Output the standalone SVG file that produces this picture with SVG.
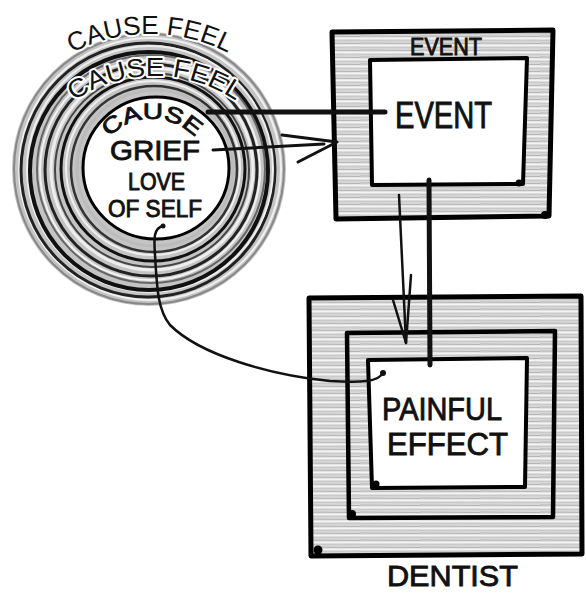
<svg xmlns="http://www.w3.org/2000/svg" width="586" height="593" viewBox="0 0 586 593">
<defs>
<pattern id="hatch" width="60" height="7" patternUnits="userSpaceOnUse">
<rect width="60" height="7" fill="#dadada"/>
<line x1="0" y1="1" x2="60" y2="1.5" stroke="#a9a9a9" stroke-width="0.8"/>
<line x1="0" y1="3.5" x2="60" y2="3.2" stroke="#f4f4f4" stroke-width="1.4"/>
<line x1="0" y1="5.6" x2="60" y2="5.8" stroke="#bdbdbd" stroke-width="0.7"/>
</pattern>
<path id="arcOuter" d="M 55 63 A 170 170 0 0 1 245 63"/>
<path id="arcMid" d="M 60 112 A 143 143 0 0 1 250 112"/>
<path id="arcInner" d="M 100 150 A 59 59 0 0 1 204 150"/>
</defs>
<style>
.lbl{font-family:"Liberation Sans","DejaVu Sans",sans-serif;fill:#111;stroke:#111;stroke-width:0.9}
.halo{paint-order:stroke;stroke:#fff;stroke-width:4;stroke-linejoin:round}
.box{stroke:#000;stroke-linejoin:round}
.ring{fill:none}
.ln{fill:none;stroke:#111;stroke-linecap:round;stroke-linejoin:round}
</style>

<g id="cause-circle">
<circle cx="149" cy="169" r="137" fill="#c4c4c4"/>
<circle class="ring" cx="149" cy="169" r="135" stroke="#888" stroke-width="2"/>
<circle class="ring" cx="150" cy="169" r="131" stroke="#f0f0f0" stroke-width="2"/>
<circle class="ring" cx="148" cy="170" r="127" stroke="#222" stroke-width="3"/>
<circle class="ring" cx="150" cy="169" r="123" stroke="#eee" stroke-width="2"/>
<circle class="ring" cx="149" cy="171" r="119" stroke="#111" stroke-width="4"/>
<circle class="ring" cx="151" cy="169" r="114" stroke="#666" stroke-width="2"/>
<circle class="ring" cx="150" cy="170" r="110" stroke="#f2f2f2" stroke-width="2"/>
<circle class="ring" cx="151" cy="170" r="106" stroke="#222" stroke-width="3"/>
<circle class="ring" cx="152" cy="169" r="101" stroke="#eee" stroke-width="3"/>
<circle class="ring" cx="152" cy="170" r="97" stroke="#444" stroke-width="2"/>
<circle class="ring" cx="153" cy="169" r="92" stroke="#111" stroke-width="3"/>
<circle class="ring" cx="153" cy="168" r="87" stroke="#f0f0f0" stroke-width="2"/>
<circle class="ring" cx="154" cy="169" r="83" stroke="#333" stroke-width="2.5"/>
<circle class="ring" cx="155" cy="168" r="78" stroke="#bbb" stroke-width="3"/>
<ellipse cx="156" cy="168" rx="73" ry="71" fill="#fff" stroke="#000" stroke-width="3"/>
<text class="lbl halo" font-size="26"><textPath href="#arcOuter" startOffset="50%" text-anchor="middle" textLength="162" lengthAdjust="spacingAndGlyphs">CAUSE FEEL</textPath></text>
<text class="lbl halo" font-size="26"><textPath href="#arcMid" startOffset="50%" text-anchor="middle" textLength="172" lengthAdjust="spacingAndGlyphs">CAUSE FEEL</textPath></text>
<text class="lbl" font-size="22"><textPath href="#arcInner" startOffset="50%" text-anchor="middle" textLength="96" lengthAdjust="spacingAndGlyphs">CAUSE</textPath></text>
<text class="lbl" x="110" y="160" font-size="28" textLength="90" lengthAdjust="spacingAndGlyphs">GRIEF</text>
<text class="lbl" x="128" y="190" font-size="23" textLength="57" lengthAdjust="spacingAndGlyphs">LOVE</text>
<text class="lbl" x="108" y="217" font-size="23" textLength="94" lengthAdjust="spacingAndGlyphs">OF SELF</text>
</g>

<g id="event-box">
<path class="box" d="M332 32 L553 30 L549 216 L336 219 Z" fill="url(#hatch)" stroke-width="5"/>
<path class="box" d="M370 60 L527 58 L523 184 L372 185 Z" fill="#fff" stroke-width="4"/>
<circle cx="545" cy="215" r="4" fill="#000"/>
<circle cx="519" cy="183" r="3.5" fill="#000"/>
<text class="lbl" x="410" y="55" font-size="24" textLength="72" lengthAdjust="spacingAndGlyphs">EVENT</text>
<text class="lbl" x="395" y="128" font-size="36" textLength="97" lengthAdjust="spacingAndGlyphs">EVENT</text>
</g>

<g id="dentist-box">
<path class="box" d="M309 298 L581 296 L582 554 L311 556 Z" fill="url(#hatch)" stroke-width="5"/>
<path class="box" d="M347 333 L555 331 L553 517 L349 518 Z" fill="url(#hatch)" stroke-width="4.5"/>
<path class="box" d="M368 360 L527 358 L525 487 L372 488 Z" fill="#fff" stroke-width="4"/>
<circle cx="318" cy="550" r="4.5" fill="#000"/>
<circle cx="352" cy="514" r="4" fill="#000"/>
<circle cx="376" cy="484" r="3.5" fill="#000"/>
<text class="lbl" x="382" y="420" font-size="32" textLength="120" lengthAdjust="spacingAndGlyphs">PAINFUL</text>
<text class="lbl" x="387" y="455" font-size="32" textLength="121" lengthAdjust="spacingAndGlyphs">EFFECT</text>
<text class="lbl" x="387" y="586" font-size="30" textLength="131" lengthAdjust="spacingAndGlyphs">DENTIST</text>
</g>

<g id="connectors">
<path class="ln" d="M208 112 L385 112" stroke-width="5"/>
<path class="ln" d="M213 150 L324 144" stroke-width="3"/>
<path class="ln" d="M282 135 L337 142 L298 162" stroke-width="3"/>
<path class="ln" d="M399 195 L406 343" stroke-width="2.5"/>
<path class="ln" d="M393 300 L406 343 L411 275" stroke-width="2.5"/>
<path class="ln" d="M429 180 L430 365" stroke-width="5"/>
<path class="ln" d="M163 226 C153 228 154 240 155 255 C157 290 158 310 170 325 C200 355 270 375 330 381 C360 383 380 382 383 372" stroke-width="2.5"/>
<circle cx="163" cy="226" r="2.5" fill="#111"/>
<circle cx="383" cy="373" r="3" fill="#111"/>
</g>
</svg>
